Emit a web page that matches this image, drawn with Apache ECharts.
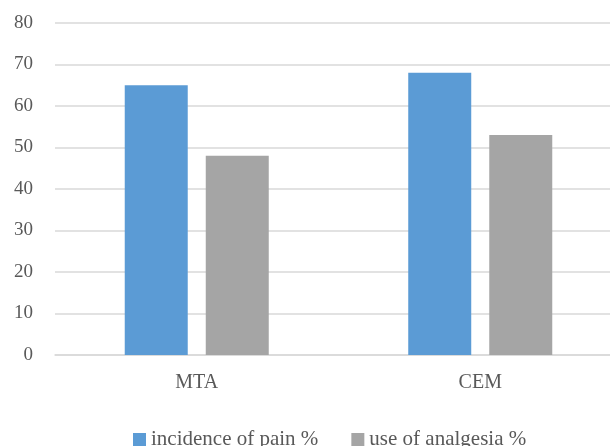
<!DOCTYPE html>
<html><head><meta charset="utf-8">
<script src="https://cdn.jsdelivr.net/npm/echarts@6/dist/echarts.min.js"></script>
<style>html,body{margin:0;padding:0;background:#fff;overflow:hidden;width:610px;height:446px}#c{width:622px;height:446px}</style>
</head><body><div id="c"></div>
<script>
const categories = ['MTA', 'CEM'];
const seriesNames = ['incidence of pain %', 'use of analgesia %'];
const painValues = [65, 68];
const analgesiaValues = [48, 53];
const yTicks = {min: 0, max: 80, interval: 10};

const chart = echarts.init(document.getElementById('c'), null, {renderer: 'canvas'});
const font = 'Liberation Serif';
chart.setOption({
  animation: false,
  grid: {left: 55, right: 0, top: 23, height: 332, containLabel: false},
  legend: {
    bottom: -9, left: 128,
    itemWidth: 13, itemHeight: 13, itemGap: 33,
    icon: 'rect',
    textStyle: {fontFamily: font, fontSize: 21, color: '#595959'},
    data: seriesNames
  },
  xAxis: {
    type: 'category', data: categories,
    axisLine: {lineStyle: {color: '#d9d9d9', width: 1.5}},
    axisTick: {show: false},
    axisLabel: {fontFamily: font, fontSize: 20, color: '#595959', margin: 18}
  },
  yAxis: {
    type: 'value', min: yTicks.min, max: yTicks.max, interval: yTicks.interval,
    axisLine: {show: false}, axisTick: {show: false},
    splitLine: {lineStyle: {color: '#d9d9d9', width: 1.5}},
    axisLabel: {fontFamily: font, fontSize: 19, color: '#595959', margin: 22}
  },
  series: [
    {name: seriesNames[0], type: 'bar', data: painValues, barWidth: 63, barGap: '28.6%',
     itemStyle: {color: '#5b9bd5'}},
    {name: seriesNames[1], type: 'bar', data: analgesiaValues, barWidth: 63,
     itemStyle: {color: '#a5a5a5'}}
  ]
});
</script></body></html>
